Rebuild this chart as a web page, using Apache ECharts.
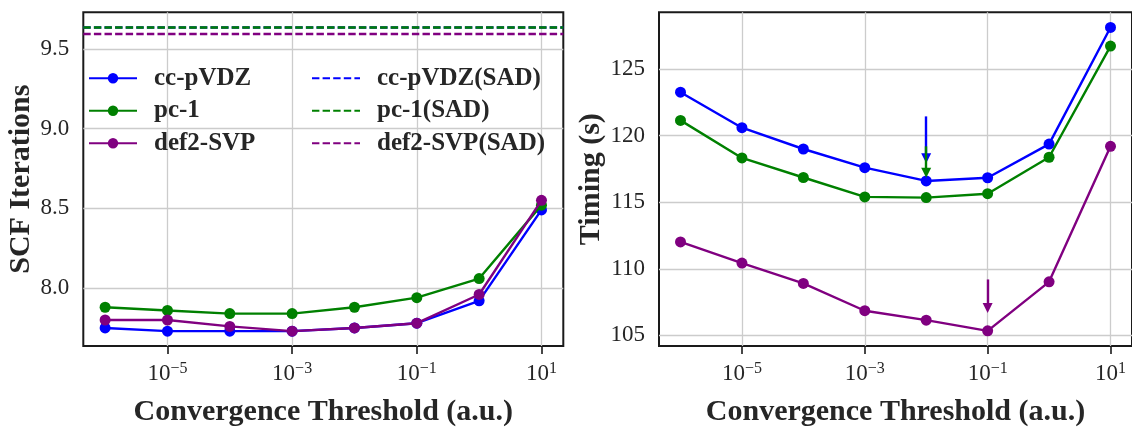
<!DOCTYPE html>
<html><head><meta charset="utf-8">
<script src="https://cdn.jsdelivr.net/npm/echarts@6/dist/echarts.min.js"></script>
<style>html,body{margin:0;padding:0;background:#fff}#c{width:1132px;height:432px}</style>
</head><body><div id="c"></div>
<script>
// ---- data ----
const thresholds = [1e-6, 1e-5, 1e-4, 1e-3, 1e-2, 1e-1, 1, 10];
const basisSets = ['cc-pVDZ', 'pc-1', 'def2-SVP'];
const sadNames = ['cc-pVDZ(SAD)', 'pc-1(SAD)', 'def2-SVP(SAD)'];
const itersCcpVDZ = [7.75, 7.73, 7.73, 7.73, 7.75, 7.78, 7.92, 8.49];
const itersPc1 = [7.88, 7.86, 7.84, 7.84, 7.88, 7.94, 8.06, 8.52];
const itersDef2SVP = [7.80, 7.80, 7.76, 7.73, 7.75, 7.78, 7.96, 8.55];
const sadIters = [9.634, 9.634, 9.593];
const timeCcpVDZ = [123.27, 120.6, 119.0, 117.6, 116.6, 116.84, 119.37, 128.13];
const timePc1 = [121.15, 118.33, 116.86, 115.4, 115.35, 115.64, 118.38, 126.73];
const timeDef2SVP = [112.02, 110.43, 108.9, 106.85, 106.14, 105.34, 109.02, 119.2];
const arrowThresholds = [1e-2, 1e-2, 1e-1];
const arrowFrom = [121.45, 119.2, 109.2];
const arrowTo = [118.31, 117.22, 107.05];
const xTickValues = [1e-5, 1e-3, 1e-1, 10];
const itersTicks = [8.0, 8.5, 9.0, 9.5];
const timingTicks = [105, 110, 115, 120, 125];

// ---- style ----
const colors = ['#0000ff', '#008000', '#800080'];
const FONT = 'Liberation Serif';
const TXT = '#262626';
const GRIDC = '#cccccc';
const DASH = [7.4, 3.2];
const LW = 2.4;
const X_MIN = Math.pow(10, -6.35), X_MAX = Math.pow(10, 1.35);

const iters = [itersCcpVDZ, itersPc1, itersDef2SVP];
const times = [timeCcpVDZ, timePc1, timeDef2SVP];
const pairs = ys => thresholds.map((t, i) => [t, ys[i]]);

function xAxisDef(gridIndex) {
  return {
    type: 'log', logBase: 10, gridIndex,
    min: X_MIN, max: X_MAX,
    axisLine: {show: false},
    axisTick: {show: true, customValues: xTickValues, length: 8, lineStyle: {color: '#1a1a1a', width: 1.6}},
    splitLine: {show: true, lineStyle: {color: GRIDC, width: 1.3}},
    axisLabel: {
      customValues: xTickValues, margin: 15,
      formatter: v => '{b|10}{s|' + String(Math.round(Math.log10(v))).replace('-', '\u2212') + '}',
      rich: {
        b: {fontSize: 23, fontFamily: FONT, color: TXT},
        s: {fontSize: 16, fontFamily: FONT, color: TXT, padding: [0, 0, 10, 0]}
      }
    },
    name: 'Convergence Threshold (a.u.)', nameLocation: 'middle', nameGap: 51,
    nameTextStyle: {fontSize: 30, fontWeight: 'bold', fontFamily: FONT, color: TXT}
  };
}
function yAxisDef(gridIndex, min, max, ticks, fmt, name, gap) {
  return {
    type: 'value', gridIndex, min, max,
    axisLine: {show: false},
    axisTick: {show: false, customValues: ticks},
    splitLine: {show: true, lineStyle: {color: GRIDC, width: 1.3}},
    axisLabel: {customValues: ticks, formatter: fmt, fontSize: 23, fontFamily: FONT, color: TXT, margin: 14},
    name, nameLocation: 'middle', nameGap: gap,
    nameTextStyle: {fontSize: 30, fontWeight: 'bold', fontFamily: FONT, color: TXT}
  };
}

const series = [];
for (let i = 0; i < 3; i++) {
  series.push({
    type: 'line', name: sadNames[i], xAxisIndex: 0, yAxisIndex: 0,
    data: [[X_MIN, sadIters[i]], [X_MAX, sadIters[i]]], symbol: 'none', showSymbol: false,
    lineStyle: {width: LW, color: colors[i], type: DASH}, itemStyle: {color: colors[i], opacity: 0},
    emphasis: {disabled: true}, z: 2
  });
}
for (let i = 0; i < 3; i++) {
  series.push({
    type: 'line', name: basisSets[i], xAxisIndex: 0, yAxisIndex: 0,
    data: pairs(iters[i]), symbol: 'circle', symbolSize: 11,
    lineStyle: {width: LW, color: colors[i]}, itemStyle: {color: colors[i]},
    emphasis: {disabled: true}, z: 3 + i
  });
}
for (let i = 0; i < 3; i++) {
  series.push({
    type: 'line', name: basisSets[i], xAxisIndex: 1, yAxisIndex: 1,
    data: pairs(times[i]), symbol: 'circle', symbolSize: 11,
    lineStyle: {width: LW, color: colors[i]}, itemStyle: {color: colors[i]},
    emphasis: {disabled: true}, z: 3 + i,
    markLine: {
      silent: true, symbol: ['none', 'triangle'], symbolSize: 10, label: {show: false}, animation: false,
      lineStyle: {color: colors[i], width: 2.4, type: 'solid'},
      itemStyle: {color: colors[i]},
      emphasis: {disabled: true},
      data: [[{coord: [arrowThresholds[i], arrowFrom[i]]}, {coord: [arrowThresholds[i], arrowTo[i]]}]]
    }
  });
}

const legendCommon = {
  orient: 'vertical', top: 65.8, padding: 0, itemWidth: 48, itemHeight: 13, itemGap: 7.5,
  selectedMode: false,
  textStyle: {fontSize: 25, fontWeight: 'bold', fontFamily: FONT, color: TXT, lineHeight: 25, padding: [0, 0, 0, 12]}
};

const option = {
  animation: false,
  backgroundColor: '#ffffff',
  grid: [
    {left: 83.3, top: 12.3, width: 480, height: 342.7, show: true, borderColor: '#1a1a1a', borderWidth: 2, backgroundColor: 'transparent', containLabel: false},
    {left: 659, top: 12.3, width: 480, height: 342.7, show: true, borderColor: '#1a1a1a', borderWidth: 2, backgroundColor: 'transparent', containLabel: false}
  ],
  xAxis: [xAxisDef(0), xAxisDef(1)],
  yAxis: [
    yAxisDef(0, 7.637, 9.729, itersTicks, v => v.toFixed(1), 'SCF Iterations', 46),
    yAxisDef(1, 104.2, 129.27, timingTicks, v => String(v), 'Timing (s)', 34)
  ],
  legend: [
    Object.assign({}, legendCommon, {left: 88, data: basisSets}),
    Object.assign({}, legendCommon, {left: 311, data: sadNames.map(n => ({name: n, itemStyle: {opacity: 0}}))})
  ],
  series
};

const chart = echarts.init(document.getElementById('c'), null, {renderer: 'canvas'});
chart.setOption(option);
</script>
</body></html>
